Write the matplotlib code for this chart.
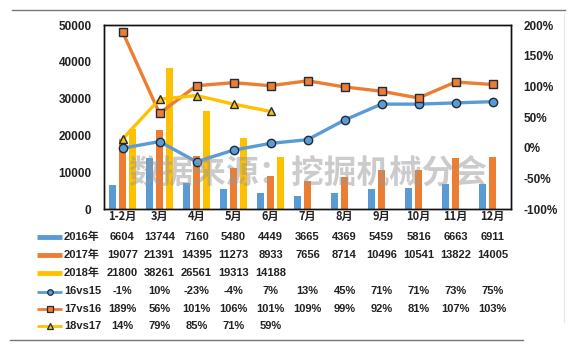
import matplotlib
matplotlib.use("Agg")
import matplotlib.pyplot as plt
import numpy as np
from matplotlib.transforms import blended_transform_factory
from matplotlib.lines import Line2D

plt.rcParams['font.family'] = ['Liberation Sans', 'Noto Sans CJK SC', 'DejaVu Sans']

months = ['1-2月', '3月', '4月', '5月', '6月', '7月', '8月', '9月', '10月', '11月', '12月']
sales_2016 = [6604, 13744, 7160, 5480, 4449, 3665, 4369, 5459, 5816, 6663, 6911]
sales_2017 = [19077, 21391, 14395, 11273, 8933, 7656, 8714, 10496, 10541, 13822, 14005]
sales_2018 = [21800, 38261, 26561, 19313, 14188]
g16vs15 = [-1, 10, -23, -4, 7, 13, 45, 71, 71, 73, 75]
g17vs16 = [189, 56, 101, 106, 101, 109, 99, 92, 81, 107, 103]
g18vs17 = [14, 79, 85, 71, 59]

C_BLUE = '#5B9BD5'
C_ORANGE = '#ED7D31'
C_YELLOW = '#FFC000'
EDGE = '#1F2A3A'

W, H = 575, 355
fig = plt.figure(figsize=(W / 100, H / 100), dpi=100)

def fx(px):
    return px / W

def fy(py):
    return 1 - py / H

left, right, top, bottom = 104, 511, 25, 209
ax = fig.add_axes([fx(left), fy(bottom), fx(right - left), (bottom - top) / H])
ax2 = ax.twinx()

x = np.arange(len(months))
bw = 0.19
ax.bar(x - 0.26, sales_2016, bw, color=C_BLUE, zorder=2)
ax.bar(x + 0.01, sales_2017, bw, color=C_ORANGE, zorder=2)
ax.bar(np.arange(len(sales_2018)) + 0.28, sales_2018, bw, color=C_YELLOW, zorder=2)
ax.set_xlim(-0.5, len(months) - 0.5)
ax.set_ylim(0, 50000)
ax.set_yticks(np.arange(0, 50001, 10000))
ax.set_xticks(x)
ax.set_xticklabels(months, fontsize=8, fontweight='bold', color='#222222',
                   family=['Noto Sans CJK SC', 'DejaVu Sans'])
ax.tick_params(axis='x', length=0, pad=1)
ax.tick_params(axis='y', length=0, pad=9, labelsize=8.5)
for lab in ax.get_yticklabels():
    lab.set_fontweight('bold')
    lab.set_color('#222222')

ax2.plot(x, g16vs15, color=C_BLUE, lw=2.4, marker='o', ms=6, mfc=C_BLUE,
         mec=EDGE, mew=1, zorder=4)
ax2.plot(x, g17vs16, color=C_ORANGE, lw=2.4, marker='s', ms=6, mfc=C_ORANGE,
         mec=EDGE, mew=1, zorder=4)
ax2.plot(np.arange(len(g18vs17)), g18vs17, color=C_YELLOW, lw=2.4, marker='^',
         ms=6, mfc=C_YELLOW, mec=EDGE, mew=1, zorder=4)
ax2.set_ylim(-100, 200)
ax2.set_yticks(np.arange(-100, 201, 50))
ax2.set_yticklabels([f'{v}%' for v in range(-100, 201, 50)])
ax2.tick_params(axis='y', length=0, pad=9, labelsize=8.5)
for lab in ax2.get_yticklabels():
    lab.set_fontweight('bold')
    lab.set_color('#222222')

for a in (ax, ax2):
    for s in a.spines.values():
        s.set_color('#111111')
        s.set_linewidth(1.0)

# watermark
fig.text(fx(308), fy(173), '数据来源：挖掘机械分会', fontsize=23.5, fontweight='bold',
         color='#999999', alpha=0.5, ha='center', va='center',
         family=['Noto Sans CJK SC'], zorder=10)

# horizontal rules
fig.add_artist(Line2D([fx(12), fx(565)], [fy(10), fy(10)], color='#777777', lw=1))
fig.add_artist(Line2D([fx(10), fx(523)], [fy(340), fy(340)], color='#777777', lw=1))
fig.add_artist(Line2D([fx(564), fx(564)], [fy(14), fy(322)], color='#e6e6e6', lw=0.8))

# data table
tr = blended_transform_factory(ax.transData, fig.transFigure)
rows = [
    ('2016年', [str(v) for v in sales_2016], 'bar', C_BLUE, None),
    ('2017年', [str(v) for v in sales_2017], 'bar', C_ORANGE, None),
    ('2018年', [str(v) for v in sales_2018], 'bar', C_YELLOW, None),
    ('16vs15', [f'{v}%' for v in g16vs15], 'line', C_BLUE, 'o'),
    ('17vs16', [f'{v}%' for v in g17vs16], 'line', C_ORANGE, 's'),
    ('18vs17', [f'{v}%' for v in g18vs17], 'line', C_YELLOW, '^'),
]
row_y = [237, 255, 273, 291.5, 309, 326]
for (label, vals, kind, col, mk), ry in zip(rows, row_y):
    if kind == 'bar':
        fig.add_artist(Line2D([fx(37), fx(62)], [fy(ry), fy(ry)], color=col,
                              lw=3.5, solid_capstyle='butt'))
    else:
        fig.add_artist(Line2D([fx(37), fx(62)], [fy(ry), fy(ry)], color=col,
                              lw=2, solid_capstyle='butt'))
        fig.add_artist(Line2D([fx(49.5)], [fy(ry)], marker=mk, ms=4, mfc=col,
                              mec=EDGE, mew=0.9, ls='none'))
    fig.text(fx(64), fy(ry), label, fontsize=8, fontweight='bold', color='#222222',
             ha='left', va='center', family=['Liberation Sans', 'Noto Sans CJK SC'])
    for i, v in enumerate(vals):
        fig.text(i, fy(ry), v, transform=tr, fontsize=8, fontweight='bold',
                 color='#222222', ha='center', va='center')

fig.savefig('out.png', dpi=100, facecolor='white')
